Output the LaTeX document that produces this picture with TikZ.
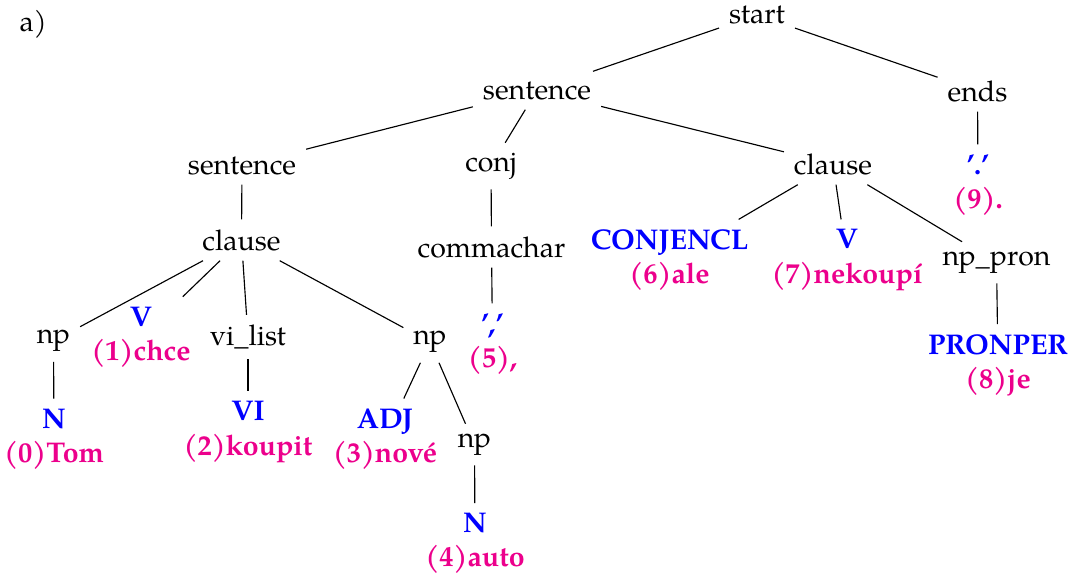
\documentclass[tikz,border=0pt]{standalone}
\usepackage{fontspec}
\setmainfont{TeX Gyre Pagella}
\definecolor{catblue}{RGB}{0,0,255}
\definecolor{wordpink}{RGB}{236,0,140}
\tikzset{
  cat/.style={inner sep=3.333pt},
  leaf/.style={inner sep=3.333pt, align=center, font=\bfseries},
  branch/.style={draw=black, line width=0.4pt},
}
% two-line terminal: category over the indexed word
\newcommand\tw[2]{\textcolor{catblue}{#1}\\\textcolor{wordpink}{#2}}

\begin{document}
\begin{tikzpicture}[x=0.35088pt,y=-0.35088pt]
\useasboundingbox (0,0) rectangle (1070,577);

\node[anchor=base west, inner sep=0pt] (lbl) at (19,31.5) {a)};

% inner nodes
\node[cat] (start) at (757,15)   {start};
\node[cat] (s1)    at (537,90.5) {sentence};
\node[cat] (ends)  at (977.5,91) {ends};
\node[cat] (s2)    at (242,165.5){sentence};
\node[cat] (conj)  at (491,166)  {conj};
\node[cat] (cl1)   at (833,164)  {clause};
\node[cat] (cl2)   at (241.5,240){clause};
\node[cat] (comma) at (491.5,247){commachar};
\node[cat] (npp)   at (996.5,262.5){np\_pron};
\node[cat] (np1)   at (53.5,341) {np};
\node[cat] (vil)   at (248,337)  {vi\_list};
\node[cat] (np2)   at (430,342)  {np};
\node[cat] (np3)   at (474.5,444.5){np};

% terminals
\node[leaf] (t9) at (978,185)   {\tw{'.'}{(9).}};
\node[leaf] (t0) at (54,439)    {\tw{N}{(0)Tom}};
\node[leaf] (t1) at (141,337)   {\tw{V}{(1)chce}};
\node[leaf] (t2) at (248,432)   {\tw{VI}{(2)koupit}};
\node[leaf] (t3) at (385,439)   {\tw{ADJ}{(3)nové}};
\node[leaf] (t4) at (475,543.5) {\tw{N}{(4)auto}};
\node[leaf] (t5) at (492.5,344) {\tw{','}{(5),}};
\node[leaf] (t6) at (669.5,260) {\tw{CONJENCL}{(6)ale}};
\node[leaf] (t7) at (847,260)   {\tw{V}{(7)nekoupí}};
\node[leaf] (t8) at (998,365)   {\tw{PRONPER}{(8)je}};

% branches
\draw[branch] (start) -- (s1);
\draw[branch] (start) -- (ends);
\draw[branch] (s1) -- (s2);
\draw[branch] (s1) -- (conj);
\draw[branch] (s1) -- (cl1);
\draw[branch] (ends) -- (t9);
\draw[branch] (s2) -- (cl2);
\draw[branch] (conj) -- (comma);
\draw[branch] (comma) -- (t5);
\draw[branch] (cl1) -- (t6);
\draw[branch] (cl1) -- (t7);
\draw[branch] (cl1) -- (npp);
\draw[branch] (npp) -- (t8);
\draw[branch] (cl2) -- (np1);
\draw[branch] (cl2) -- (t1);
\draw[branch] (cl2) -- (vil);
\draw[branch] (cl2) -- (np2);
\draw[branch] (np1) -- (t0);
\draw[branch] (vil) -- (t2);
\draw[branch] (np2) -- (t3);
\draw[branch] (np2) -- (np3);
\draw[branch] (np3) -- (t4);
\end{tikzpicture}
\end{document}
